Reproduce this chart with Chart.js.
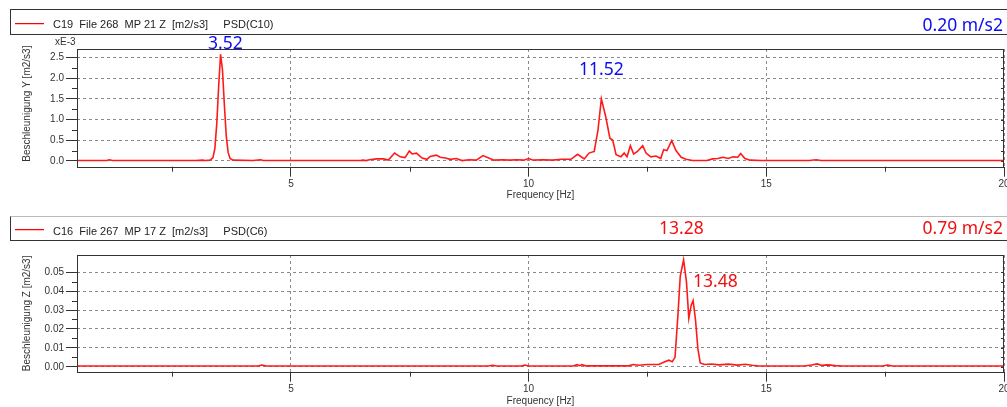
<!DOCTYPE html>
<html><head><meta charset="utf-8">
<script src="https://cdn.jsdelivr.net/npm/chart.js@4.4.1/dist/chart.umd.min.js"></script>
<style>
html,body{margin:0;padding:0;background:#fff;}
body{width:1007px;height:407px;position:relative;overflow:hidden;font-family:"Liberation Sans",Arial,sans-serif;}
canvas{position:absolute;left:0;top:0;}
.box{position:absolute;left:10px;width:1010px;box-sizing:border-box;border:1px solid #333;border-right:none;}
.lg{position:absolute;left:53px;font-size:11px;color:#222;white-space:pre;line-height:normal;}
.sw{position:absolute;left:15px;width:29px;height:1px;background:#ff0000;box-shadow:0 0.5px 0 rgba(255,0,0,0.5);}
.pk{position:absolute;font-family:"Noto Sans",sans-serif;font-size:17.5px;white-space:pre;line-height:normal;}
.rt{right:4px;}
.blue{color:#0b0bef}.red{color:#f01010}
.xe{position:absolute;left:55px;top:36px;font-size:10px;color:#333;line-height:normal;}
</style></head><body>
<div style="position:absolute;left:0;top:0;width:1007px;height:203px"><canvas id="c1" width="1007" height="203"></canvas></div>
<div style="position:absolute;left:0;top:203px;width:1007px;height:204px"><canvas id="c2" width="1007" height="204"></canvas></div>

<div class="box" style="top:9px;height:26px"></div>
<div class="sw" style="top:23px"></div>
<div class="lg" style="top:18px">C19  File 268  MP 21 Z  [m2/s3]     PSD(C10)</div>
<div class="pk blue rt" style="top:12px">0.20 m/s2</div>
<div class="pk blue" style="left:208px;top:29.5px">3.52</div>
<div class="pk blue" style="left:579px;top:56px">11.52</div>
<div class="xe">xE-3</div>

<div class="box" style="top:216px;height:25px;border-top-color:#bbb"></div>
<div class="sw" style="top:229px"></div>
<div class="lg" style="top:225px">C16  File 267  MP 17 Z  [m2/s3]     PSD(C6)</div>
<div class="pk red" style="left:659px;top:214.5px">13.28</div>
<div class="pk red rt" style="top:214.5px">0.79 m/s2</div>
<div class="pk red" style="left:693px;top:268px">13.48</div>

<script>
// ---- data ----
const freqTop = [0.5,1.0,1.12,1.18,1.25,2.5,3.0,3.14,3.2,3.3,3.36,3.4,3.44,3.48,3.52,3.56,3.6,3.64,3.68,3.72,3.78,4.2,4.36,4.42,6.46,6.52,6.58,6.65,6.8,6.95,7.05,7.18,7.3,7.4,7.49,7.55,7.64,7.76,7.86,7.93,8.06,8.14,8.25,8.35,8.48,8.6,8.75,8.9,9.04,9.16,9.27,9.45,9.6,9.75,9.9,10.0,10.1,10.3,10.5,10.7,10.89,11.03,11.17,11.27,11.38,11.46,11.53,11.62,11.71,11.77,11.84,11.94,12.01,12.07,12.14,12.21,12.29,12.4,12.47,12.57,12.68,12.78,12.84,12.91,13.01,13.1,13.21,13.31,13.45,13.75,13.87,13.98,14.09,14.2,14.3,14.4,14.46,14.55,14.66,14.9,15.9,16.05,16.15,20.0];
const accTopE3 = [0.01,0.01,0.01,0.03,0.01,0.01,0.01,0.02,0.01,0.02,0.08,0.3,0.9,1.8,2.57,2.2,1.35,0.6,0.2,0.06,0.02,0.01,0.03,0.01,0.01,0.02,0.01,0.03,0.05,0.05,0.02,0.19,0.1,0.08,0.24,0.17,0.19,0.07,0.04,0.11,0.14,0.09,0.07,0.04,0.06,0.01,0.03,0.02,0.13,0.07,0.02,0.03,0.02,0.03,0.02,0.06,0.02,0.03,0.02,0.04,0.04,0.16,0.05,0.19,0.23,0.75,1.5,1.08,0.55,0.5,0.15,0.1,0.19,0.1,0.37,0.17,0.23,0.37,0.19,0.1,0.12,0.06,0.27,0.25,0.49,0.25,0.09,0.04,0.01,0.01,0.05,0.06,0.09,0.06,0.1,0.09,0.18,0.06,0.02,0.01,0.01,0.03,0.01,0.01];

const freqBot = [0.5,4.3,4.39,4.48,9.15,9.24,9.33,9.85,9.92,10.0,10.95,11.02,11.07,11.12,11.2,12.1,12.2,12.32,12.5,12.74,12.84,12.95,13.02,13.08,13.14,13.19,13.26,13.32,13.37,13.42,13.46,13.51,13.56,13.61,13.7,13.85,14.0,14.2,14.4,14.55,14.7,14.85,15.8,15.95,16.07,16.15,16.3,16.45,16.6,17.45,17.55,17.65,20.0];
const accBot = [0.0004,0.0004,0.0009,0.0004,0.0004,0.0008,0.0004,0.0004,0.0009,0.0004,0.0005,0.0011,0.0006,0.0011,0.0005,0.0005,0.0012,0.0008,0.0012,0.0012,0.0024,0.0035,0.0027,0.005,0.027,0.048,0.0565,0.045,0.0256,0.0326,0.035,0.025,0.0097,0.002,0.0012,0.0015,0.001,0.0014,0.0009,0.0013,0.0008,0.0004,0.0004,0.0009,0.0015,0.0008,0.001,0.0006,0.0004,0.0004,0.0009,0.0004,0.0004];

const xTicks = [5,10,15,20];
const xMinor = [2.5,7.5,12.5,17.5];
const yTicksTop = [0,0.5,1.0,1.5,2.0,2.5];
const yMinorTop = [0.25,0.75,1.25,1.75,2.25];
const yTicksBot = [0,0.01,0.02,0.03,0.04,0.05];
const yMinorBot = [0.005,0.015,0.025,0.035,0.045];

// ---- drawing ----
const FONT = {family:'"Liberation Sans", Arial, sans-serif', size:10};
const INK = '#333';

const framePlugin = {
  id:'frame',
  afterDraw(chart, args, o){
    const {ctx, chartArea:a, scales:{x,y}} = chart;
    ctx.save();
    ctx.strokeStyle = INK; ctx.lineWidth = 1;
    ctx.beginPath();
    o.xMinor.forEach(v=>{const p=Math.round(x.getPixelForValue(v))+0.5; ctx.moveTo(p,a.bottom); ctx.lineTo(p,a.bottom+5);});
    o.yMinor.forEach(v=>{const p=Math.round(y.getPixelForValue(v))+0.5; ctx.moveTo(a.left-5,p); ctx.lineTo(a.left,p);});
    o.yMajor.concat(o.yMinor).forEach(v=>{const p=Math.round(y.getPixelForValue(v))+0.5; ctx.moveTo(a.right-3,p); ctx.lineTo(a.right,p);});
    ctx.stroke();
    const l=Math.round(a.left)+0.5, t=Math.round(a.top)+0.5, r=Math.round(a.right)-0.5, b=Math.round(a.bottom)+0.5;
    ctx.strokeRect(l,t,r-l,b-t);
    ctx.restore();
  }
};

function makeChart(id, fx, fy, yMin, yMax, yMajor, yMinorArr, dec, yTitle, padTop, padBottom, xH){
  return new Chart(document.getElementById(id), {
    type:'line',
    data:{datasets:[{data: fx.map((f,i)=>({x:f, y:fy[i]})), borderColor:'#ff1a1a', borderWidth:1.6, pointRadius:0, tension:0, fill:false}]},
    options:{
      responsive:false, animation:false, devicePixelRatio:1,
      layout:{padding:{top:padTop, right:3, left:0, bottom:padBottom}},
      plugins:{legend:{display:false}, tooltip:{enabled:false}, frame:{xMinor:xMinor, yMinor:yMinorArr, yMajor:yMajor}},
      scales:{
        x:{type:'linear', min:0.5, max:20,
          afterBuildTicks:s=>{s.ticks = xTicks.map(v=>({value:v}));},
          afterFit:s=>{s.height = xH; s.paddingLeft=0; s.paddingRight=0;},
          ticks:{font:FONT, color:INK, padding:2, maxRotation:0, autoSkip:false, callback:v=>String(v)},
          grid:{color:'#8a8a8a', lineWidth:1, tickLength:10, tickColor:INK, tickBorderDash:[]},
          border:{display:false, dash:[3,3]},
          title:{display:true, text:'Frequency [Hz]', font:FONT, color:INK, padding:{top:0,bottom:0}}
        },
        y:{type:'linear', min:yMin, max:yMax,
          afterBuildTicks:s=>{s.ticks = yMajor.map(v=>({value:v}));},
          afterFit:s=>{s.width = 77; s.paddingTop=0; s.paddingBottom=0;},
          ticks:{font:FONT, color:INK, padding:2, callback:v=>v.toFixed(dec)},
          grid:{color:'#8a8a8a', lineWidth:1, tickLength:11, tickColor:INK, tickBorderDash:[]},
          border:{display:false, dash:[3,3]},
          title:{display:true, text:yTitle, font:FONT, color:INK, padding:{top:21,bottom:0}}
        }
      }
    },
    plugins:[framePlugin]
  });
}

makeChart('c1', freqTop, accTopE3, -0.138, 2.7, yTicksTop, yMinorTop, 1, '\u00a0\u00a0\u00a0Beschleunigung Y [m2/s3]', 49, 2, 34.3);
makeChart('c2', freqBot, accBot, -0.0026, 0.0591, yTicksBot, yMinorBot, 2, 'Beschleunigung Z [m2/s3]', 52, 0, 35.3);
</script>
</body></html>
